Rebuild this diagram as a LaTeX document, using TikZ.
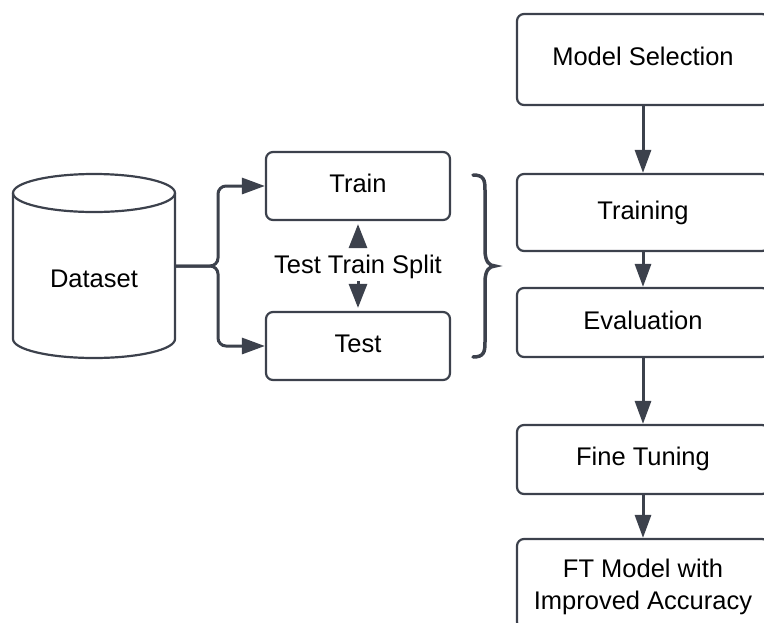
\documentclass[tikz,border=0pt]{standalone}
\usepackage{fontspec}
\setmainfont{Liberation Sans}
\usetikzlibrary{arrows.meta}
\definecolor{ln}{HTML}{3C414C}
\tikzset{
  txt/.style={font=\fontsize{25.5}{32}\selectfont, text height=18pt, text depth=0pt},
  box/.style={draw=ln, line width=2.2pt, rounded corners=7pt, minimum width=184pt, minimum height=68pt, inner sep=0pt, align=center, txt},
  rbox/.style={box, minimum width=252pt},
  conn/.style={draw=ln, line width=3pt, -{Triangle[length=23pt,width=16pt]}},
  lbl/.style={inner sep=0pt, txt}
}
\begin{document}
\begin{tikzpicture}[x=1pt,y=-1pt]
\useasboundingbox (0,0) rectangle (764,622);
\clip (0,0) rectangle (764,622);
% cylinder
\draw[ln, line width=2.2pt] (13,193) -- (13,339) arc[start angle=180, end angle=0, x radius=81, y radius=19] -- (175,193);
\draw[ln, line width=2.2pt] (94,193) ellipse [x radius=81, y radius=19];
\node[lbl, minimum width=162pt] (ds) at (94,278) {Dataset};
% split boxes
\node[box] (train) at (358,186) {};
\node[lbl] at (358,183) {Train};
\node[box] (test) at (358,346) {};
\node[lbl] at (358,343) {Test};
\node[lbl, minimum height=34pt] (split) at (358,264) {Test Train Split};
\draw[conn, rounded corners=8pt] ([yshift=12pt]ds.east) -- (218,266) |- (train.west);
\draw[conn, rounded corners=8pt] ([yshift=12pt]ds.east) -- (218,266) |- (test.west);
\draw[conn, -{Triangle[length=24pt,width=18pt]}, shorten >=3pt] (split.north) -- (train.south);
\draw[conn, -{Triangle[length=24pt,width=18pt]}, shorten >=3pt] (split.south) -- (test.north);
% brace
\draw[ln, line width=3.5pt, line cap=round] (473,175) .. controls (484,175) and (485,180) .. (485,190) -- (485,250) .. controls (485,261) and (489,266) .. (495,266) .. controls (489,266) and (485,271) .. (485,282) -- (485,342) .. controls (485,352) and (484,357) .. (473,357);
% right column
\node[rbox, minimum height=91pt] (ms) at (643,59.5) {};
\node[lbl] at (643,56) {Model Selection};
\node[rbox, minimum height=77pt] (tr) at (643,212.5) {};
\node[lbl] at (643,210) {Training};
\node[rbox, minimum height=69pt] (ev) at (643,322.5) {};
\node[lbl] at (643,320) {Evaluation};
\node[rbox, minimum height=69pt] (ft) at (643,459.5) {};
\node[lbl] at (643,456) {Fine Tuning};
\node[rbox, minimum height=90pt] (fm) at (643,584) {};
\node[inner sep=0pt, align=center, font=\fontsize{25.5}{32}\selectfont] at (643,586.5) {FT Model with\\Improved Accuracy};
\draw[conn] (ms.south) -- (tr.north);
\draw[conn] (tr.south) -- (ev.north);
\draw[conn] (ev.south) -- (ft.north);
\draw[conn] (ft.south) -- (fm.north);
\end{tikzpicture}
\end{document}
